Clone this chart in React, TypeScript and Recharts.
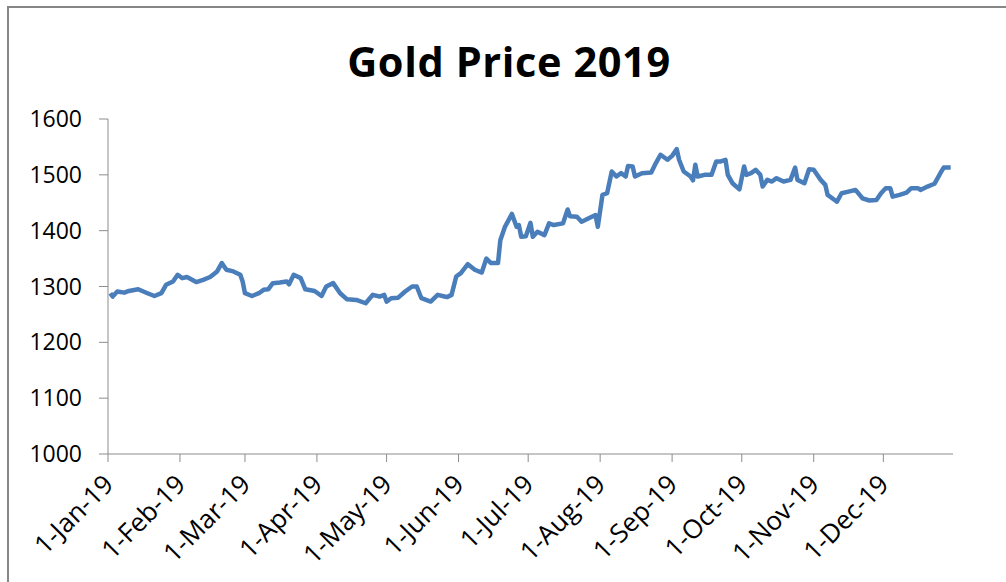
import { LineChart, Line, XAxis, YAxis } from "recharts";

// day of year (0 = 1 Jan 2019) and price
const days = [
  1, 2, 4, 7, 9, 13, 17, 20, 23, 25, 28, 30, 32, 34, 38, 41, 44, 47, 49, 51, 54, 57, 58, 59, 62, 65, 67,
  69, 71, 74, 77, 78, 80, 83, 85, 89, 92, 94, 97, 100, 103, 107, 111, 114, 117, 119, 120, 122, 125, 128,
  131, 133, 135, 139, 142, 145, 146, 148, 150, 152, 155, 158, 161, 163, 165, 168, 169, 171, 174, 176,
  177, 178, 180, 182, 183, 185, 188, 190, 192, 196, 198, 199, 202, 204, 206, 210, 211, 213, 215, 217,
  219, 221, 223, 224, 226, 227, 230, 234, 236, 238, 241, 243, 245, 246, 248, 251, 252, 253, 254, 257,
  260, 262, 264, 266, 267, 269, 272, 274, 275, 277, 279, 281, 282, 284, 286, 288, 291, 294, 296, 297,
  300, 302, 304, 307, 309, 310, 313, 314, 316, 319, 322, 325, 328, 331, 333, 335, 337, 338, 341, 344,
  346, 349, 350, 353, 356, 359, 360, 363,
];
const prices = [
  1288, 1282, 1291, 1289, 1292, 1295, 1288, 1283, 1288, 1303, 1309, 1321, 1315, 1317, 1308, 1312, 1317,
  1327, 1342, 1330, 1327, 1321, 1309, 1288, 1283, 1288, 1294, 1295, 1306, 1307, 1309, 1304, 1321, 1315,
  1295, 1292, 1283, 1300, 1306, 1288, 1277, 1276, 1270, 1285, 1282, 1285, 1273, 1279, 1280, 1291, 1300,
  1300, 1279, 1273, 1285, 1282, 1281, 1285, 1318, 1324, 1340, 1330, 1325, 1350, 1342, 1342, 1383, 1407,
  1430, 1407, 1410, 1389, 1390, 1414, 1389, 1398, 1392, 1413, 1410, 1413, 1438, 1426, 1425, 1416, 1420,
  1428, 1407, 1464, 1467, 1506, 1497, 1503, 1497, 1516, 1515, 1497, 1503, 1504, 1521, 1536, 1527, 1534,
  1546, 1527, 1506, 1497, 1490, 1518, 1497, 1500, 1500, 1524, 1524, 1527, 1500, 1485, 1474, 1515, 1500,
  1503, 1509, 1500, 1479, 1491, 1488, 1494, 1488, 1491, 1513, 1491, 1485, 1510, 1509, 1491, 1482, 1464,
  1455, 1452, 1467, 1470, 1473, 1458, 1454, 1455, 1467, 1476, 1476, 1461, 1464, 1468, 1476, 1476, 1473,
  1479, 1484, 1506, 1513, 1513,
];

const monthTicks = [0, 31, 59, 90, 120, 151, 181, 212, 243, 273, 304, 334];
const tickLabels = [
  "1-Jan-19", "1-Feb-19", "1-Mar-19", "1-Apr-19", "1-May-19", "1-Jun-19",
  "1-Jul-19", "1-Aug-19", "1-Sep-19", "1-Oct-19", "1-Nov-19", "1-Dec-19",
];
const priceTicks = [1000, 1100, 1200, 1300, 1400, 1500, 1600];

const data = days.map((d, i) => ({ day: d, price: prices[i] }));

const axisGrey = "#8c8c8c";
const font = "'Open Sans', sans-serif";

function DateTick(props: any) {
  const { x, y, payload } = props;
  const label = tickLabels[monthTicks.indexOf(payload.value)];
  return (
    <text
      x={0}
      y={0}
      transform={`translate(${x + 7},${y + 22}) rotate(-45)`}
      textAnchor="end"
      fontSize={26}
      fontFamily={font}
      fill="#000"
    >
      {label}
    </text>
  );
}

export default function App() {
  return (
    <div style={{ position: "absolute", left: 0, top: 0, width: 1006, height: 582, overflow: "hidden", background: "#fff" }}>
      <div
        style={{
          position: "absolute",
          left: 7,
          top: 6,
          width: 1010,
          height: 600,
          borderLeft: "2px solid #868686",
          borderTop: "2px solid #868686",
        }}
      />
      <div
        style={{
          position: "absolute",
          left: 0,
          width: 1018,
          top: 33,
          textAlign: "center",
          fontFamily: font,
          fontWeight: 700,
          fontSize: 41.5,
          letterSpacing: 0.6,
          color: "#000",
        }}
      >
        Gold Price 2019
      </div>
      <LineChart
        width={1006}
        height={582}
        data={data}
        margin={{ top: 119, right: 53, bottom: 0, left: 0 }}
        style={{ position: "absolute", left: 0, top: 0 }}
      >
        <XAxis
          dataKey="day"
          type="number"
          domain={[0, 364]}
          ticks={monthTicks}
          interval={0}
          height={128}
          stroke={axisGrey}
          tickSize={8}
          tickMargin={2}
          tick={<DateTick />}
        />
        <YAxis
          type="number"
          domain={[1000, 1600]}
          ticks={priceTicks}
          interval={0}
          width={108}
          stroke={axisGrey}
          tickSize={9}
          tickMargin={17}
          tick={{ fontSize: 23, fill: "#000", fontFamily: font }}
        />
        <Line
          type="linear"
          dataKey="price"
          stroke="#4a7ebb"
          strokeWidth={4.5}
          strokeLinejoin="round"
          dot={false}
          isAnimationActive={false}
        />
      </LineChart>
    </div>
  );
}
